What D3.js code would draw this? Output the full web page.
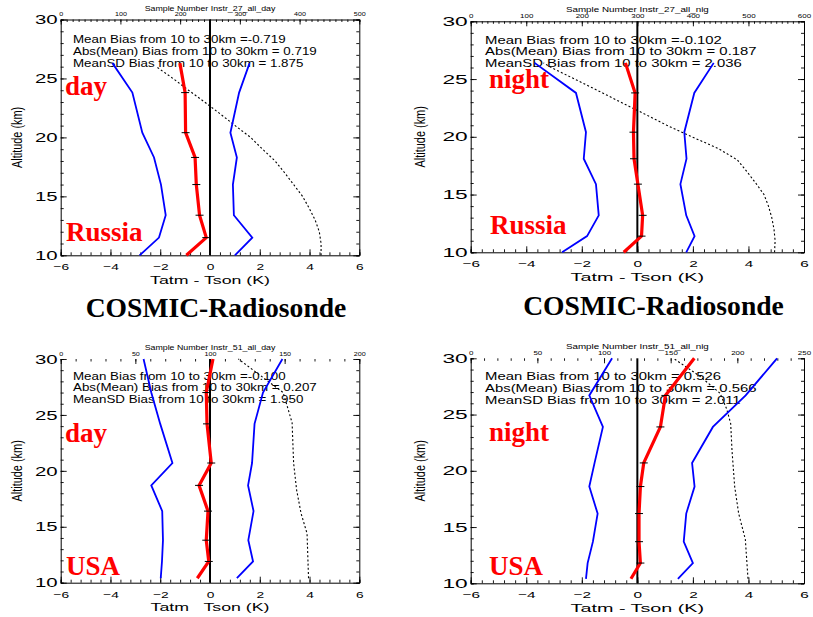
<!DOCTYPE html>
<html><head><meta charset="utf-8">
<script src="https://cdn.jsdelivr.net/npm/d3@7"></script>
<style>body{margin:0;background:#fff}svg{display:block}</style>
</head><body>
<svg id="c" width="813" height="617"></svg>
<script>
// ---------------- DATA ----------------
// Panel 1: Russia, day
const ruDayAlt  = [10, 11.5, 13.4, 16.0, 18.3, 20.4, 23.8, 26.3];
const ruDayMean = [-0.95, -0.15, -0.42, -0.55, -0.60, -0.98, -1.00, -1.21];
const ruDayLow  = [-2.83, -2.05, -1.78, -1.97, -2.25, -2.72, -3.12, -3.92];
const ruDayHigh = [1.00, 1.70, 0.96, 0.92, 1.08, 0.82, 1.17, 1.59];
const ruDaySampAlt = [10, 11, 12, 13, 14, 15, 16, 17, 18, 19, 20, 21, 22, 23, 24, 25, 26];
const ruDaySampN   = [436, 436, 433, 426, 416, 405, 390, 375, 359, 338, 318, 292, 267, 241, 214, 188, 160];
const ruDayStats = ["Mean Bias from 10 to 30km =-0.719", "Abs(Mean) Bias from 10 to 30km = 0.719", "MeanSD Bias from 10 to 30km = 1.875"];

// Panel 2: Russia, night
const ruNigAlt  = [10, 11.4, 13.2, 15.9, 18.1, 20.4, 23.8, 26.4];
const ruNigMean = [-0.49, 0.15, 0.19, 0.02, -0.12, -0.14, -0.08, -0.43];
const ruNigLow  = [-2.71, -1.81, -1.39, -1.49, -1.93, -1.85, -2.21, -3.70];
const ruNigHigh = [1.76, 2.06, 1.76, 1.55, 1.77, 1.69, 2.05, 2.75];
const ruNigSampAlt = [10, 11, 12, 13, 14, 15, 16, 17, 18, 19, 20, 21, 22, 23, 24, 25, 26, 26.4];
const ruNigSampN   = [547, 548, 546, 542, 536, 528, 513, 497, 480, 445, 398, 353, 312, 270, 229, 187, 145, 131];
const ruNigStats = ["Mean Bias from 10 to 30km =-0.102", "Abs(Mean) Bias from 10 to 30km = 0.187", "MeanSD Bias from 10 to 30km = 2.036"];

// Panel 3: USA, day
const usDayAlt  = [10.4, 11.9, 13.8, 16.4, 18.7, 20.7, 24.2, 27.0, 30];
const usDayMean = [-0.51, -0.05, -0.15, -0.08, -0.44, 0.05, -0.12, -0.15, 0.12];
const usDayLow  = [-1.98, -1.93, -1.89, -1.92, -2.36, -1.51, -2.00, -2.36, -2.67];
const usDayHigh = [1.08, 1.73, 1.54, 1.75, 1.53, 1.69, 1.79, 2.13, 2.91];
const usDaySampAlt = [10.4, 14.4, 16.2, 18.3, 20.7, 24.3, 27.0, 28.1, 30];
const usDaySampN   = [166, 165, 161, 158, 156, 155, 149, 138, 119];
const usDayStats = ["Mean Bias from 10 to 30km =-0.100", "Abs(Mean) Bias from 10 to 30km = 0.207", "MeanSD Bias from 10 to 30km = 1.950"];

// Panel 4: USA, night
const usNigAlt  = [10.4, 11.8, 13.7, 16.2, 18.6, 20.7, 23.9, 26.7, 30];
const usNigMean = [-0.23, 0.11, 0.06, 0.06, 0.11, 0.23, 0.83, 1.01, 2.05];
const usNigLow  = [-1.85, -1.79, -1.60, -1.43, -1.73, -1.54, -1.24, -1.73, -0.91];
const usNigHigh = [1.46, 2.00, 1.67, 1.76, 2.06, 1.97, 2.72, 3.90, 5.03];
const usNigSampAlt = [10.4, 13.9, 16.2, 18.6, 21.8, 24.2, 25.5, 26.9, 28.4, 30];
const usNigSampN   = [208, 206, 201, 198, 196, 195, 192, 187, 172, 152];
const usNigStats = ["Mean Bias from 10 to 30km = 0.526", "Abs(Mean) Bias from 10 to 30km = 0.566", "MeanSD Bias from 10 to 30km = 2.011"];

// Axis ticks / labels
const biasTicks = [-6, -4, -2, 0, 2, 4, 6];
const altTicks = [10, 15, 20, 25, 30];
const sampTicksRuDay = [0, 100, 200, 300, 400, 500];
const sampTicksRuNig = [0, 100, 200, 300, 400, 500, 600];
const sampTicksUsDay = [0, 50, 100, 150, 200];
const sampTicksUsNig = [0, 50, 100, 150, 200, 250];
const sampTitles = ["Sample Number Instr_27_all_day", "Sample Number Instr_27_all_nig", "Sample Number Instr_51_all_day", "Sample Number Instr_51_all_nig"];
const xTitles = ["Tatm - Tson (K)", "Tatm - Tson (K)", "Tatm   Tson (K)", "Tatm - Tson (K)"];
const periodLabels = ["day", "night", "day", "night"];
const regionLabels = ["Russia", "Russia", "USA", "USA"];
const captions = ["COSMIC-Radiosonde", "COSMIC-Radiosonde"];

// ---------------- LAYOUT ----------------
const panels = [
  {box:[60.7,359.3,19.5,255.3], k:1.0, alt:ruDayAlt, mean:ruDayMean, low:ruDayLow, high:ruDayHigh,
   sAlt:ruDaySampAlt, sN:ruDaySampN, sTicks:sampTicksRuDay, stats:ruDayStats, topLine:true,
   statsX:73, statsY:[43,55,66.5], periodPos:[65,95], regionPos:[66,241], ylabX:17},
  {box:[470.7,804,21.3,252.3], k:1.114, alt:ruNigAlt, mean:ruNigMean, low:ruNigLow, high:ruNigHigh,
   sAlt:ruNigSampAlt, sN:ruNigSampN, sTicks:sampTicksRuNig, stats:ruNigStats, topLine:true,
   statsX:485, statsY:[43.5,55,66.5], periodPos:[489,87.7], regionPos:[490,234.3], ylabX:420},
  {box:[60.7,359.3,359,582.7], k:1.0, alt:usDayAlt, mean:usDayMean, low:usDayLow, high:usDayHigh,
   sAlt:usDaySampAlt, sN:usDaySampN, sTicks:sampTicksUsDay, stats:usDayStats, topLine:false,
   statsX:73, statsY:[379.5,391,402.5], periodPos:[65,441.7], regionPos:[66,575], ylabX:17},
  {box:[470.7,804,358.3,583.3], k:1.114, alt:usNigAlt, mean:usNigMean, low:usNigLow, high:usNigHigh,
   sAlt:usNigSampAlt, sN:usNigSampN, sTicks:sampTicksUsNig, stats:usNigStats, topLine:false,
   statsX:485, statsY:[380,391.5,403.5], periodPos:[489,441], regionPos:[489,575], ylabX:420}
];

const svg = d3.select("#c");
const SANS = "'Liberation Sans', Arial, Helvetica, sans-serif";
const SERIF = "'Liberation Serif', 'Times New Roman', Times, serif";

function stext(g, x, y, str, size, sx, anchor, opts) {
  opts = opts || {};
  const t = g.append("text")
    .attr("transform", `translate(${x},${y}) scale(${sx},1)`)
    .attr("text-anchor", anchor || "start")
    .attr("font-family", opts.family || SANS)
    .attr("font-size", size)
    .attr("fill", opts.fill || "#000")
    .style("white-space", "pre")
    .text(str);
  if (opts.bold) t.attr("font-weight", "bold");
  return t;
}

panels.forEach((p, i) => {
  const [x0, x1, y0, y1] = p.box;
  const k = p.k;
  const x = d3.scaleLinear().domain([-6, 6]).range([x0, x1]);
  const y = d3.scaleLinear().domain([10, 30]).range([y1, y0]);
  const xs = d3.scaleLinear().domain([0, d3.max(p.sTicks)]).range([x0, x1]);
  const g = svg.append("g");

  // Left axis (minor + major, inward)
  const gl = g.append("g").attr("transform", `translate(${x0},0)`);
  gl.call(d3.axisLeft(y).tickValues(d3.range(10, 31, 1)).tickSize(-3).tickFormat(""));
  gl.append("g").call(d3.axisLeft(y).tickValues(altTicks).tickSize(-6).tickFormat(d3.format("d")))
    .call(a => a.select(".domain").remove());
  const sxY = 1.57 * k;
  gl.selectAll("text").attr("x", -3 / sxY).attr("transform", `scale(${sxY},1)`)
    .attr("font-size", 13).attr("font-family", SANS).attr("fill", "#000");

  // Right axis
  const gr = g.append("g").attr("transform", `translate(${x1},0)`);
  gr.call(d3.axisRight(y).tickValues(d3.range(10, 31, 1)).tickSize(-3).tickFormat(""));
  gr.append("g").call(d3.axisRight(y).tickValues(altTicks).tickSize(-6).tickFormat(""))
    .call(a => a.select(".domain").remove());

  // Bottom axis
  const gb = g.append("g").attr("transform", `translate(0,${y1})`);
  gb.call(d3.axisBottom(x).tickValues(d3.range(-6, 6.01, 0.4)).tickSize(-3).tickFormat(""));
  gb.append("g").call(d3.axisBottom(x).tickValues(biasTicks).tickSize(-6).tickFormat(d3.format("d")))
    .call(a => a.select(".domain").remove());
  const sxB = 1.45 * k;
  gb.selectAll("text").attr("y", 15).attr("dy", 0).attr("transform", `scale(${sxB},1)`)
    .attr("font-size", 9.5).attr("font-family", SANS).attr("fill", "#000");

  // Top axis (sample number)
  const gt = g.append("g").attr("transform", `translate(0,${y0})`);
  const sMax = d3.max(p.sTicks);
  gt.call(d3.axisTop(xs).tickValues(d3.range(0, sMax + 0.01, 10)).tickSize(-2.5).tickFormat(""));
  if (!p.topLine) gt.select(".domain").remove();
  gt.append("g").call(d3.axisTop(xs).tickValues(p.sTicks).tickSize(-5).tickFormat(d3.format("d")))
    .call(a => a.select(".domain").remove());
  const sxT = 1.3 * k;
  gt.selectAll("text").attr("y", -3.5).attr("dy", 0).attr("transform", `scale(${sxT},1)`)
    .attr("font-size", 5.5).attr("font-family", SANS).attr("fill", "#000");
  g.selectAll(".domain").attr("stroke", "#000").attr("stroke-width", 1);
  g.selectAll(".tick line").attr("stroke", "#000").attr("stroke-width", 0.9);

  // Top title
  stext(g, (x0 + x1) / 2, y0 - 9, sampTitles[i], 7, 1.26 * k, "middle");

  // Stats text
  p.stats.forEach((s, j) => stext(g, p.statsX, p.statsY[j], s, 10.2, 1.31 * k, "start"));

  // X title
  stext(g, x(0), y1 + 28.7, xTitles[i], 11.6, 1.53 * k, "middle");

  // Y title
  g.append("text")
    .attr("transform", `translate(${p.ylabX + 5},${(y0 + y1) / 2}) rotate(-90) scale(0.78,1)`)
    .attr("text-anchor", "middle").attr("font-family", SANS).attr("font-size", 14)
    .text("Altitude (km)");

  // Sample number dotted curve
  const sampData = p.sAlt.map((a, j) => ({a, n: p.sN[j]}));
  g.append("path").datum(sampData)
    .attr("d", d3.line().x(d => xs(d.n)).y(d => y(d.a)))
    .attr("fill", "none").attr("stroke", "#000").attr("stroke-width", 1.1).attr("stroke-dasharray", "2,2.2");

  // Zero line
  g.append("line").attr("x1", x(0)).attr("x2", x(0)).attr("y1", y(10)).attr("y2", y(30))
    .attr("stroke", "#000").attr("stroke-width", 2);

  const line = d3.line().x(d => x(d.v)).y(d => y(d.a));
  const mk = arr => p.alt.map((a, j) => ({a, v: arr[j]}));

  // Mean +/- SD lines
  [p.low, p.high].forEach(arr => {
    g.append("path").datum(mk(arr)).attr("d", line)
      .attr("fill", "none").attr("stroke", "#0000ff").attr("stroke-width", 1.8);
  });
  // Mean bias line
  g.append("path").datum(mk(p.mean)).attr("d", line)
    .attr("fill", "none").attr("stroke", "#ff0000").attr("stroke-width", 3.2).attr("stroke-linejoin", "round");
  // Small black level marks on mean line
  const inner = mk(p.mean).slice(1, -1);
  g.selectAll(null).data(inner).enter().append("line")
    .attr("x1", d => x(d.v) - 4).attr("x2", d => x(d.v) + 4)
    .attr("y1", d => y(d.a)).attr("y2", d => y(d.a))
    .attr("stroke", "#000").attr("stroke-width", 1);

  // Red labels
  g.append("text").attr("x", p.periodPos[0]).attr("y", p.periodPos[1])
    .attr("font-family", SERIF).attr("font-weight", "bold").attr("font-size", 27).attr("fill", "#ff0000")
    .text(periodLabels[i]);
  g.append("text").attr("x", p.regionPos[0]).attr("y", p.regionPos[1])
    .attr("font-family", SERIF).attr("font-weight", "bold").attr("font-size", 27).attr("fill", "#ff0000")
    .text(regionLabels[i]);
});

// Captions
[[216, 317], [653.5, 315]].forEach((pos, i) => {
  svg.append("text").attr("x", pos[0]).attr("y", pos[1]).attr("text-anchor", "middle")
    .attr("font-family", SERIF).attr("font-weight", "bold").attr("font-size", 27.6).attr("fill", "#000")
    .text(captions[i]);
});
</script>
</body></html>
